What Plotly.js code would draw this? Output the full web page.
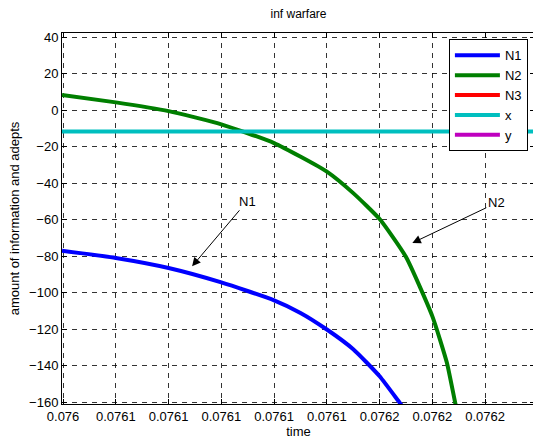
<!DOCTYPE html>
<html>
<head>
<meta charset="utf-8">
<script src="https://cdn.plot.ly/plotly-3.0.1.min.js"></script>
<style>
html,body{margin:0;padding:0;overflow:hidden;background:#fff;}
#chart{width:540px;height:439px;}
</style>
</head>
<body>
<div id="chart"></div>
<script>
// ---- data ----
const tN1 = [0.0760396, 0.07606, 0.07608, 0.07610, 0.07612, 0.07613, 0.07614, 0.07615, 0.07616, 0.0761676, 0.0761716];
const N1  = [-77.0, -81.0, -86.5, -94.4, -104.2, -111.1, -120.2, -131.0, -145.8, -160.3, -168.0];
const tN2 = [0.0760396, 0.07606, 0.07608, 0.07610, 0.07612, 0.07614, 0.07615, 0.07616, 0.07617, 0.07618, 0.0761855, 0.0761886, 0.0761913];
const N2  = [8.3, 4.2, -0.6, -7.8, -18.1, -33.7, -45.5, -59.7, -80.5, -113.0, -138.4, -160.0, -178.0];
const tN3 = [0.0760396, 0.0762189];
const N3  = [null, null];
const tX  = [0.0760396, 0.0762189];
const xVals = [-11.8, -11.8];
const tY  = [0.0760396, 0.0762189];
const yVals = [null, null];
const seriesNames = ['N1', 'N2', 'N3', 'x', 'y'];
const xTickVals = [0.07604, 0.07606, 0.07608, 0.07610, 0.07612, 0.07614, 0.07616, 0.07618, 0.07620];
const xTickText = ['0.076', '0.0761', '0.0761', '0.0761', '0.0761', '0.0761', '0.0762', '0.0762', '0.0762'];
const yTickVals = [40, 20, 0, -20, -40, -60, -80, -100, -120, -140, -160];

const FONT = 'Liberation Sans, Arial, Helvetica, sans-serif';
const colors = ['#0000FF', '#007F00', '#FF0000', '#00BFBF', '#BF00BF'];
const xs = [tN1, tN2, tN3, tX, tY];
const ys = [N1, N2, N3, xVals, yVals];

const traces = seriesNames.map((n, i) => ({
  type: 'scatter', mode: 'lines', name: n,
  x: xs[i], y: ys[i],
  line: {color: colors[i], width: 4, shape: 'spline', smoothing: 0.5},
  cliponaxis: true
}));

const gridStyle = {showgrid: true, gridcolor: '#000', gridwidth: 0.8, griddash: '5px,5px'};

const layout = {
  width: 540, height: 439,
  margin: {l: 62, r: 5, t: 33, b: 35},
  paper_bgcolor: '#fff', plot_bgcolor: '#fff',
  font: {family: FONT, size: 13, color: '#000'},
  title: {text: 'inf warfare', font: {size: 12, family: FONT, color: '#000'}, x: 0.5, xref: 'paper', y: 1, yref: 'container', yanchor: 'top', pad: {t: 10}},
  showlegend: true,
  legend: {x: 0.985, xanchor: 'right', y: 0.983, yanchor: 'top', bgcolor: '#fff', bordercolor: '#000', borderwidth: 1, font: {size: 13, family: FONT, color: '#000'}, tracegroupgap: 0, itemwidth: 45},
  xaxis: Object.assign({
    range: [0.0760396, 0.0762189],
    tickvals: xTickVals, ticktext: xTickText,
    ticks: 'inside', ticklen: 5, tickcolor: '#000',
    showline: true, linecolor: '#000', linewidth: 1, mirror: 'ticks',
    zeroline: false,
    tickfont: {size: 13, family: FONT, color: '#000'},
    title: {text: 'time', font: {size: 13, family: FONT, color: '#000'}, standoff: 4}
  }, gridStyle),
  yaxis: Object.assign({
    range: [-161.0, 42.2],
    tickvals: yTickVals,
    ticks: 'inside', ticklen: 5, tickcolor: '#000',
    showline: true, linecolor: '#000', linewidth: 1, mirror: 'ticks',
    zeroline: false,
    tickfont: {size: 13, family: FONT, color: '#000'},
    title: {text: 'amount of information and adepts', font: {size: 13, family: FONT, color: '#000'}, standoff: 6}
  }, gridStyle),
  annotations: [
    {x: 0.0760889, y: -85.6, xref: 'x', yref: 'y', text: 'N1', showarrow: true, ax: 55, ay: -65,
     arrowhead: 2, arrowsize: 1.7, arrowwidth: 1, arrowcolor: '#000', font: {size: 13, family: FONT, color: '#000'}},
    {x: 0.0761724, y: -72.8, xref: 'x', yref: 'y', text: 'N2', showarrow: true, ax: 84, ay: -40,
     arrowhead: 2, arrowsize: 1.7, arrowwidth: 1, arrowcolor: '#000', font: {size: 13, family: FONT, color: '#000'}}
  ]
};

Plotly.newPlot('chart', traces, layout, {displayModeBar: false, staticPlot: true});
</script>
</body>
</html>
